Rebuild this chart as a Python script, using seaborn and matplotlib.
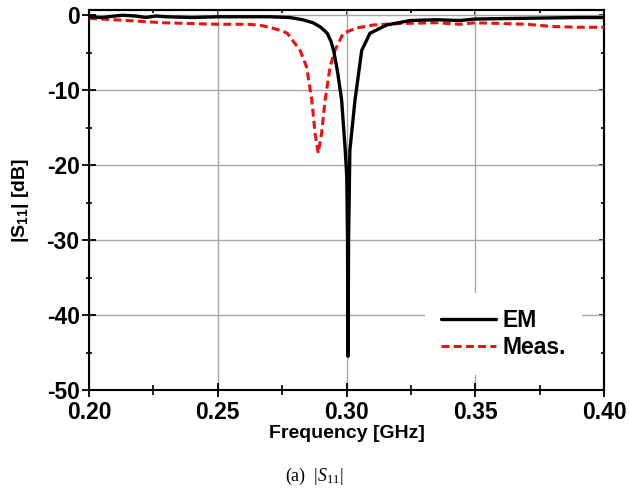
import numpy as np
import pandas as pd
import matplotlib
matplotlib.use("Agg")
import matplotlib.pyplot as plt
import seaborn as sns
from matplotlib.ticker import MultipleLocator, FormatStrFormatter, NullFormatter

# ---- data ----
em_freq = [0.200, 0.205, 0.210, 0.213, 0.218, 0.222, 0.226, 0.230, 0.240, 0.250,
           0.260, 0.270, 0.278, 0.283, 0.287, 0.290, 0.2925, 0.294, 0.295, 0.2965,
           0.2981, 0.2995, 0.3001, 0.3004, 0.3005, 0.3006, 0.3008, 0.3013, 0.3033,
           0.3059, 0.3091, 0.3156, 0.3247, 0.335, 0.344, 0.350, 0.370, 0.390, 0.400]
em_s11 = [-0.2, -0.3, -0.1, 0.0, -0.1, -0.3, -0.1, -0.2, -0.3, -0.2,
          -0.2, -0.2, -0.3, -0.6, -1.0, -1.6, -2.4, -3.5, -4.7, -7.5,
          -11.3, -18.0, -21.6, -30.0, -40.0, -45.5, -30.0, -18.0, -11.3,
          -4.7, -2.4, -1.3, -0.7, -0.6, -0.7, -0.5, -0.4, -0.3, -0.3]

meas_freq = [0.200, 0.210, 0.2287, 0.250, 0.261, 0.266, 0.270, 0.2742, 0.277, 0.282,
             0.2845, 0.2865, 0.2878, 0.2890, 0.2903, 0.2917, 0.2936, 0.2955, 0.2987,
             0.304, 0.3103, 0.3208, 0.335, 0.344, 0.350, 0.360, 0.370, 0.380, 0.390, 0.400]
meas_s11 = [-0.4, -0.6, -1.0, -1.2, -1.2, -1.3, -1.6, -2.0, -2.4, -4.7,
            -6.9, -11.3, -15.8, -18.4, -15.8, -11.3, -6.9, -4.7, -2.4,
            -1.7, -1.3, -1.1, -1.0, -1.2, -1.0, -1.1, -1.2, -1.5, -1.6, -1.6]

x_ticks = [0.20, 0.25, 0.30, 0.35, 0.40]
y_ticks = [-50, -40, -30, -20, -10, 0]

# ---- style ----
sns.set_theme(style="ticks")
plt.rcParams['font.family'] = ['Liberation Sans', 'DejaVu Sans']
plt.rcParams['axes.unicode_minus'] = False
for k in ['text.color', 'axes.labelcolor', 'xtick.color', 'ytick.color', 'axes.edgecolor']:
    plt.rcParams[k] = 'black'
plt.rcParams['mathtext.fontset'] = 'custom'
plt.rcParams['mathtext.rm'] = 'Liberation Serif'
plt.rcParams['mathtext.it'] = 'Liberation Serif:italic'
plt.rcParams['mathtext.bf'] = 'Liberation Sans:bold'

fig = plt.figure(figsize=(6.29, 4.91), dpi=100)
ax = fig.add_axes([0.1415, 0.2057, 0.8188, 0.7739])

df_em = pd.DataFrame({"f": em_freq, "s": em_s11})
df_me = pd.DataFrame({"f": meas_freq, "s": meas_s11})

sns.lineplot(data=df_em, x="f", y="s", ax=ax, color="black", linewidth=2.4,
             label="EM", zorder=4)
sns.lineplot(data=df_me, x="f", y="s", ax=ax, color="#ee1111", linewidth=2.2,
             linestyle=(0, (2.6, 1.4)), label="Meas.", zorder=3)

ax.set_xlim(0.2, 0.4)
ax.set_ylim(-50, 0.7)
ax.set_xticks(x_ticks)
ax.set_yticks(y_ticks)
ax.xaxis.set_minor_locator(MultipleLocator(0.025))
ax.yaxis.set_minor_locator(MultipleLocator(5))
ax.xaxis.set_major_formatter(FormatStrFormatter('%.2f'))

ax.grid(True, which='major', color='#a8a8a8', linewidth=1.0)
ax.set_axisbelow(True)

for sp in ax.spines.values():
    sp.set_visible(True)
    sp.set_color('black')
    sp.set_linewidth(1.5)

ax.tick_params(axis='both', which='major', labelsize=16.5, width=1.3, length=9.5,
               direction='inout', pad=2)
ax.tick_params(axis='x', which='major', pad=3)
ax.tick_params(axis='y', which='minor', width=1.2, length=4.5, direction='inout')
ax.tick_params(axis='x', which='minor', width=1.2, length=6.5, direction='inout')
ax.tick_params(top=False, right=False, which='both')
for lab in ax.get_xticklabels() + ax.get_yticklabels():
    lab.set_fontweight('bold')

# inward ticks on the top and right edges
secx = ax.secondary_xaxis('top')
secx.set_xticks(x_ticks)
secx.xaxis.set_minor_locator(MultipleLocator(0.025))
secx.xaxis.set_major_formatter(NullFormatter())
secx.tick_params(which='major', direction='in', length=3.5, width=1.2)
secx.tick_params(which='minor', direction='in', length=2.5, width=1.2)
secx.spines['top'].set_linewidth(1.5)
secy = ax.secondary_yaxis('right')
secy.set_yticks(y_ticks)
secy.yaxis.set_minor_locator(MultipleLocator(5))
secy.yaxis.set_major_formatter(NullFormatter())
secy.tick_params(which='major', direction='in', length=3.5, width=1.2)
secy.tick_params(which='minor', direction='in', length=2.5, width=1.2)
secy.spines['right'].set_linewidth(1.5)

ax.set_xlabel("Frequency [GHz]", fontsize=14, fontweight='bold', labelpad=1)
ax.set_ylabel(r"$\mathbf{|S_{11}|}$ [dB]", fontsize=14, fontweight='bold', labelpad=11)

leg = ax.legend(loc='upper left', bbox_to_anchor=(0.652, 0.255), frameon=True,
                fontsize=16.5, handlelength=2.4, handletextpad=0.3,
                labelspacing=0.15, borderaxespad=0, borderpad=0.7,
                fancybox=False)
leg.get_frame().set_facecolor('white')
leg.get_frame().set_edgecolor('none')
leg.get_frame().set_alpha(1.0)
for t in leg.get_texts():
    t.set_fontweight('bold')

fig.text(0.5, 0.0305, r"(a)  $|S_{11}|$", ha='center', va='center',
         fontsize=13, family='Liberation Serif')

fig.savefig("out.png", dpi=100)
